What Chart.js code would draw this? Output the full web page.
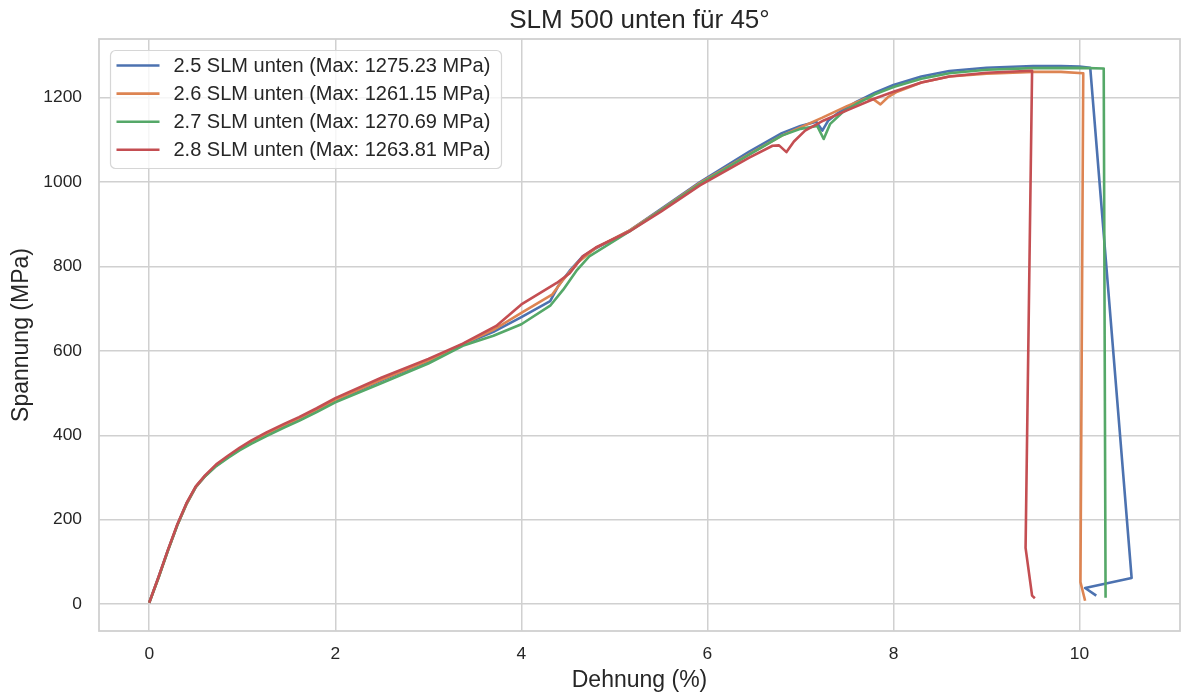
<!DOCTYPE html>
<html>
<head>
<meta charset="utf-8">
<script src="https://cdn.jsdelivr.net/npm/chart.js@4/dist/chart.umd.min.js"></script>
<style>
    html, body { margin: 0; padding: 0; background: #ffffff; }
    #wrap { width: 1181px; height: 697px; }
</style>
</head>
<body>
<div id="wrap"><canvas id="tensileChart" width="1181" height="697"></canvas></div>
<script>
// ===== DATA =====
const seriesLabels = [
    '2.5 SLM unten (Max: 1275.23 MPa)',
    '2.6 SLM unten (Max: 1261.15 MPa)',
    '2.7 SLM unten (Max: 1270.69 MPa)',
    '2.8 SLM unten (Max: 1263.81 MPa)'
];
const seriesColors = ['#4C72B0', '#DD8452', '#55A868', '#C44E52'];

const strain25 = [0, 0.1, 0.2, 0.3, 0.4, 0.5, 0.6, 0.72, 0.85, 0.97, 1.1, 1.26, 1.45, 1.61, 1.8, 2.0, 2.5, 3.0, 3.37, 3.7, 4.0, 4.31, 4.4, 4.52, 4.66, 4.8, 5.17, 5.5, 5.92, 6.45, 6.8, 7.0, 7.17, 7.235, 7.3, 7.4, 7.6, 7.8, 8.0, 8.3, 8.6, 9.0, 9.5, 9.8, 10.0, 10.115, 10.56, 10.06, 10.18];
const stress25 = [3, 64, 127, 186, 237, 277, 303, 328, 349, 367, 384, 403, 422, 438, 459, 482, 530, 575, 615, 645, 680, 718, 755, 790, 824, 843, 886, 936, 1000, 1072, 1116, 1133, 1143, 1122, 1146, 1163, 1190, 1212, 1230, 1250, 1263, 1271, 1275, 1275, 1274, 1271, 62, 38, 20];

const strain26 = [0, 0.1, 0.2, 0.3, 0.4, 0.5, 0.6, 0.72, 0.85, 0.97, 1.1, 1.26, 1.45, 1.61, 1.8, 2.0, 2.5, 3.0, 3.37, 3.7, 4.0, 4.33, 4.45, 4.6, 4.8, 5.17, 5.5, 5.92, 6.45, 6.8, 7.23, 7.5, 7.7, 7.78, 7.86, 7.94, 8.04, 8.3, 8.6, 9.0, 9.5, 9.8, 10.04, 10.01, 10.06];
const stress26 = [3, 63, 126, 186, 236, 277, 303, 329, 350, 368, 385, 404, 424, 440, 461, 484, 532, 577, 616, 650, 690, 733, 769, 808, 844, 886, 934, 998, 1066, 1110, 1152, 1180, 1198, 1197, 1184, 1201, 1214, 1236, 1250, 1257, 1261, 1261, 1258, 52, 8];

const strain27 = [0, 0.1, 0.2, 0.3, 0.4, 0.5, 0.6, 0.72, 0.85, 0.97, 1.1, 1.26, 1.45, 1.61, 1.8, 2.0, 2.5, 3.0, 3.37, 3.7, 4.0, 4.31, 4.45, 4.6, 4.73, 5.17, 5.5, 5.92, 6.45, 6.8, 7.0, 7.18, 7.25, 7.32, 7.45, 7.6, 7.8, 8.0, 8.3, 8.6, 9.0, 9.5, 10.0, 10.26, 10.28];
const stress27 = [3, 62, 126, 186, 238, 278, 303, 327, 347, 364, 380, 398, 418, 434, 455, 478, 524, 570, 612, 636, 663, 707, 745, 792, 824, 884, 933, 996, 1065, 1110, 1126, 1133, 1102, 1138, 1165, 1185, 1208, 1225, 1245, 1258, 1266, 1270, 1270.5, 1269, 15];

const strain28 = [0, 0.1, 0.2, 0.3, 0.4, 0.5, 0.6, 0.72, 0.85, 0.97, 1.1, 1.26, 1.45, 1.61, 1.8, 2.0, 2.5, 3.0, 3.37, 3.73, 4.0, 4.38, 4.52, 4.66, 4.8, 5.17, 5.5, 5.92, 6.45, 6.7, 6.77, 6.85, 6.93, 7.05, 7.25, 7.5, 7.8, 8.0, 8.3, 8.6, 9.0, 9.3, 9.49, 9.42, 9.49, 9.52];
const stress28 = [3, 64, 128, 188, 239, 279, 305, 331, 352, 370, 388, 407, 427, 443, 464, 488, 537, 581, 617, 659, 710, 761, 784, 824, 845, 884, 930, 992, 1058, 1086, 1087, 1071, 1096, 1122, 1146, 1170, 1198, 1214, 1236, 1250, 1259, 1262, 1263.8, 133, 20, 14];

const xTicks = [0, 2, 4, 6, 8, 10];
const yTicks = [0, 200, 400, 600, 800, 1000, 1200];

// ===== HELPERS =====
const FONT = "'Liberation Sans', Arial, sans-serif";
const TEXT_COLOR = '#262626';
const GRID_COLOR = '#d0d0d0';

function toPoints(xs, ys) {
    return xs.map((x, i) => ({ x: x, y: ys[i] }));
}

const allStrain = [strain25, strain26, strain27, strain28];
const allStress = [stress25, stress26, stress27, stress28];

const datasets = seriesLabels.map((label, i) => ({
    label: label,
    data: toPoints(allStrain[i], allStress[i]),
    borderColor: seriesColors[i],
    backgroundColor: seriesColors[i],
    borderWidth: 2.6,
    pointRadius: 0,
    tension: 0,
    fill: false,
    borderJoinStyle: 'round',
    order: seriesLabels.length - i   // later series drawn on top
}));

// frame around plot area (seaborn whitegrid spines)
const framePlugin = {
    id: 'frame',
    beforeDatasetsDraw(chart) {
        const { ctx, chartArea: a } = chart;
        ctx.save();
        ctx.strokeStyle = GRID_COLOR;
        ctx.lineWidth = 1.8;
        ctx.strokeRect(a.left, a.top, a.right - a.left, a.bottom - a.top);
        ctx.restore();
    }
};

// legend inside the plot, upper left
const insideLegend = {
    id: 'insideLegend',
    afterDatasetsDraw(chart) {
        const { ctx, chartArea: a } = chart;
        const x0 = a.left + 11.5, y0 = a.top + 11.5, w = 391, h = 118;
        ctx.save();
        ctx.beginPath();
        ctx.roundRect(x0, y0, w, h, 5);
        ctx.fillStyle = 'rgba(255,255,255,0.8)';
        ctx.fill();
        ctx.strokeStyle = '#d6d6d6';
        ctx.lineWidth = 1.2;
        ctx.stroke();
        ctx.font = '20px ' + FONT;
        ctx.textBaseline = 'middle';
        ctx.textAlign = 'left';
        chart.data.datasets.forEach((ds, i) => {
            const y = y0 + 15 + i * 28.1;
            ctx.beginPath();
            ctx.moveTo(x0 + 6, y);
            ctx.lineTo(x0 + 49, y);
            ctx.strokeStyle = ds.borderColor;
            ctx.lineWidth = 2.6;
            ctx.stroke();
            ctx.fillStyle = TEXT_COLOR;
            ctx.fillText(ds.label, x0 + 63, y + 1);
        });
        ctx.restore();
    }
};

// ===== CHART =====
new Chart(document.getElementById('tensileChart'), {
    type: 'line',
    data: { datasets: datasets },
    plugins: [framePlugin, insideLegend],
    options: {
        responsive: false,
        animation: false,
        devicePixelRatio: 1,
        layout: { padding: { left: 0, right: 1, top: 0, bottom: 0 } },
        plugins: {
            legend: { display: false },
            tooltip: { enabled: false },
            title: {
                display: true,
                fullSize: false,
                text: 'SLM 500 unten für 45°',
                color: TEXT_COLOR,
                font: { family: FONT, size: 26, weight: 'normal' },
                padding: { top: 5, bottom: 2.8 }
            }
        },
        scales: {
            x: {
                type: 'linear',
                min: -0.54,
                max: 11.08,
                afterBuildTicks: (s) => { s.ticks = xTicks.map(v => ({ value: v })); },
                afterFit: (s) => { s.height = 66; },
                grid: { color: GRID_COLOR, lineWidth: 1.5, drawTicks: false },
                border: { display: false },
                ticks: {
                    color: TEXT_COLOR,
                    font: { family: FONT, size: 17.4 },
                    padding: 12.6,
                    maxRotation: 0,
                    callback: (v) => String(v)
                },
                title: {
                    display: true,
                    text: 'Dehnung (%)',
                    color: TEXT_COLOR,
                    font: { family: FONT, size: 23 },
                    padding: { top: 0, bottom: 2.6 }
                }
            },
            y: {
                type: 'linear',
                min: -63.8,
                max: 1339,
                afterBuildTicks: (s) => { s.ticks = yTicks.map(v => ({ value: v })); },
                afterFit: (s) => { s.width = 99; },
                grid: { color: GRID_COLOR, lineWidth: 1.5, drawTicks: false },
                border: { display: false },
                ticks: {
                    color: TEXT_COLOR,
                    font: { family: FONT, size: 17.4 },
                    padding: 17,
                    callback: (v) => String(v)
                },
                title: {
                    display: true,
                    text: 'Spannung (MPa)',
                    color: TEXT_COLOR,
                    font: { family: FONT, size: 23 },
                    padding: { top: 8, bottom: 0 }
                }
            }
        }
    }
});
</script>
</body>
</html>
